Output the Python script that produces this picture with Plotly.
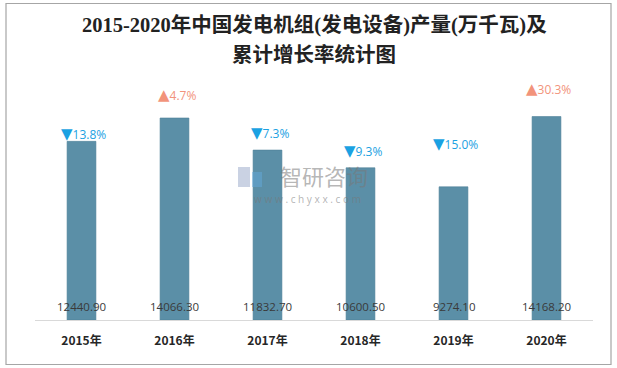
import plotly.graph_objects as go

years = ["2015年", "2016年", "2017年", "2018年", "2019年", "2020年"]
output = [12440.90, 14066.30, 11832.70, 10600.50, 9274.10, 14168.20]
growth = [-13.8, 4.7, -7.3, -9.3, -15.0, 30.3]
growth_shift = [8, 24, 18, 18, 44, 29]  # label offsets above bars (px)

W, H = 617, 368
L, R, T, B = 35, 24, 80, 48
plot_h = H - T - B
ymax = plot_h / 0.01436

def py(p):
    # pixel y (from top) -> paper y
    return (H - B - p) / plot_h

def px(p):
    return (p - L) / (W - L - R)

fig = go.Figure()
fig.add_trace(go.Bar(
    x=years, y=output,
    marker=dict(color="#5b8fa7", line=dict(color="#4f8199", width=0.6)),
    width=0.31, hoverinfo="x+y",
))

ann = []
for yr, v, g, s in zip(years, output, growth, growth_shift):
    up = g > 0
    tri = "▲" if up else "▼"
    ann.append(dict(
        x=yr, y=v, xref="x", yref="y", yshift=s, xshift=2,
        text=f"<span style='font-size:15px'>{tri}</span>{abs(g):.1f}%",
        showarrow=False, yanchor="middle", xanchor="center",
        font=dict(family="Open Sans, DejaVu Sans", size=12,
                  color="#f2937b" if up else "#1ba1e2"),
    ))
    ann.append(dict(
        x=yr, y=0, xref="x", yref="y", yshift=13.5,
        text=f"{v:.2f}", showarrow=False, yanchor="middle",
        font=dict(family="Open Sans, Noto Sans", size=11.5, color="#3a3a3a"),
    ))

# title
title_font = dict(family="Liberation Serif, Noto Sans CJK SC", size=20.5, color="#222222")
ann.append(dict(x=0.5, xref="paper", y=py(26), yref="paper", yanchor="middle",
                text="<b>2015-2020年中国发电机组(发电设备)产量(万千瓦)及</b>",
                showarrow=False, font=title_font))
ann.append(dict(x=0.5, xref="paper", y=py(54.5), yref="paper", yanchor="middle",
                text="<b>累计增长率统计图</b>", showarrow=False, font=title_font))

# watermark
ann.append(dict(x=px(324), xref="paper", y=py(175), yref="paper", yanchor="middle",
                text="智研咨询", showarrow=False,
                font=dict(family="Noto Sans CJK SC", size=22, color="rgba(120,120,120,0.55)")))
ann.append(dict(x=px(307), xref="paper", y=py(198.5), yref="paper", yanchor="middle",
                text="w w w . c h y x x . c o m", showarrow=False,
                font=dict(family="Noto Sans", size=10, color="rgba(120,120,120,0.55)")))

shapes = [
    dict(type="rect", xref="paper", yref="paper",
         x0=px(6), x1=px(611), y0=py(364.5), y1=py(3.5),
         line=dict(color="#a6a6a6", width=1.2), fillcolor="rgba(0,0,0,0)", layer="below"),
    # watermark logo
    dict(type="rect", xref="paper", yref="paper",
         x0=px(238), x1=px(250), y0=py(187), y1=py(167),
         line=dict(width=0), fillcolor="rgba(150,165,200,0.5)"),
    dict(type="rect", xref="paper", yref="paper",
         x0=px(252), x1=px(262), y0=py(187), y1=py(172),
         line=dict(width=0), fillcolor="rgba(100,170,220,0.5)"),
]

fig.update_layout(
    width=W, height=H,
    margin=dict(l=L, r=R, t=T, b=B),
    paper_bgcolor="white", plot_bgcolor="white",
    showlegend=False,
    bargap=0.69,
    annotations=ann,
    shapes=shapes,
    xaxis=dict(showline=True, linecolor="#d9d9d9", linewidth=1, ticks="",
               tickfont=dict(family="Noto Sans CJK SC", size=12, color="#262626"),
               showgrid=False, ticklabelstandoff=10,
               tickprefix="<b>", ticksuffix="</b>"),
    yaxis=dict(range=[0, ymax], visible=False, showgrid=False, zeroline=False),
)
fig.write_html("out.html", config={"displayModeBar": False},
               post_script="document.body.style.margin='0';")
